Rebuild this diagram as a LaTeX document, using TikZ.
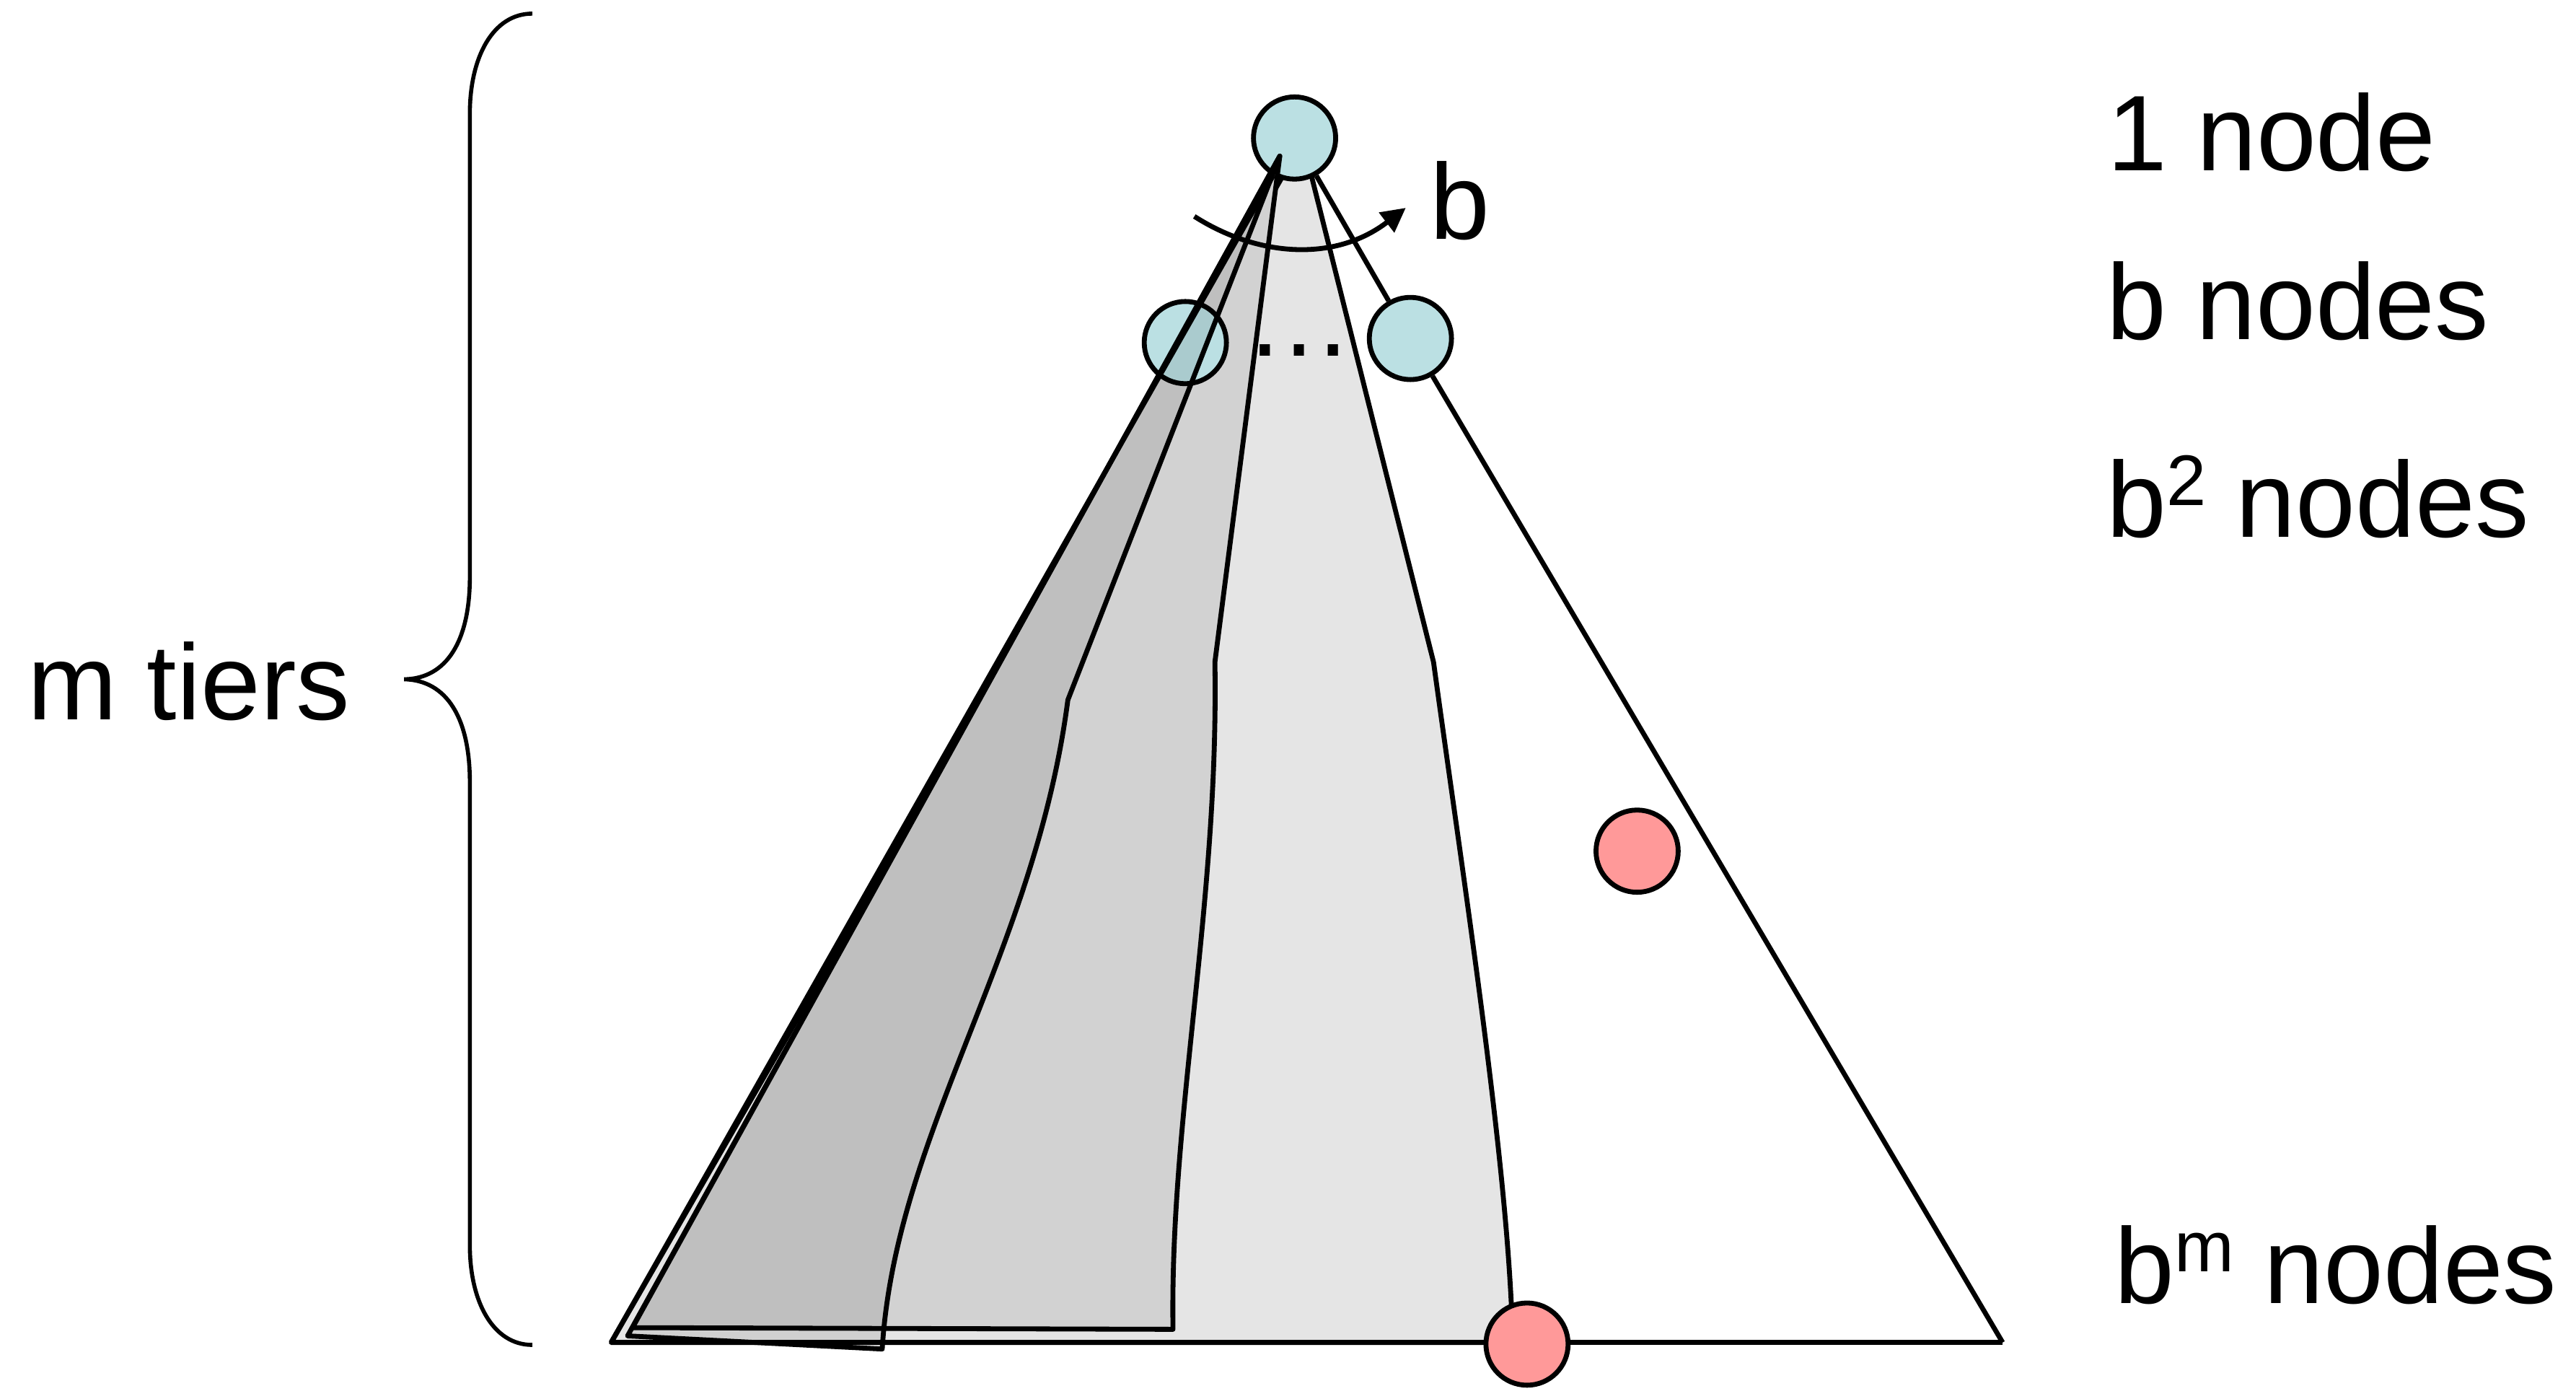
\documentclass[tikz,border=0pt]{standalone}
\usepackage{fontspec}
\setmainfont{Liberation Sans}
\usetikzlibrary{arrows.meta}
\definecolor{nodeblue}{RGB}{187,224,227}
\definecolor{nodered}{RGB}{255,153,153}
\definecolor{fanlight}{RGB}{229,229,229}
\definecolor{fanmid}{RGB}{210,210,210}
\tikzstyle{vertex}=[circle,draw=black,line width=0.85pt,minimum size=0.5cm,inner sep=0pt]
\tikzstyle{tree vertex}=[vertex,fill=nodeblue]
\tikzstyle{goal vertex}=[vertex,fill=nodered]
\tikzstyle{edge}=[draw,line width=0.85pt,-]
\tikzstyle{fan}=[draw,line width=0.85pt,line join=round]
\tikzstyle{tier label}=[inner sep=0pt,anchor=base west,font=\fontsize{18.6}{22}\selectfont]
\newcommand{\upidx}[1]{\raisebox{0.3em}{\fontsize{12.4}{14}\selectfont #1}}

\begin{document}
\begin{tikzpicture}[x=0.01cm,y=-0.01cm]
    \useasboundingbox (0,0) rectangle (1568,851.4);
    % corners and fan tips
    \coordinate (apex) at (779,95);
    \coordinate (lightapex) at (793,86);
    \coordinate (lcorner) at (372,817);
    \coordinate (rcorner) at (1219,817);

    % lightest fan, then the root on top of it
    \path[fan,fill=fanlight] (lightapex) -- (872.6,403) .. controls (890,530) and (915,690) .. (920,795) -- (920,817) -- (lcorner) -- cycle;
    \node[tree vertex] (root) at (788,84) {};

    % middle fan, then the left child
    \path[fan,fill=fanmid] (apex) -- (739.5,403) .. controls (742,550) and (712,680) .. (714,809) -- (385,808) -- cycle;
    \node[tree vertex] (lchild) at (721.5,208.5) {};

    % darkest fan over the left child
    \path[fan,fill=black,fill opacity=0.09] (apex) -- (650,426) .. controls (630,580) and (545,690) .. (537,821) -- (382,813) -- cycle;
    \node[tree vertex] (rchild) at (858.5,206) {};

    % Connect the outline of the tree
    \foreach \source/ \dest in {root/lcorner,root/rchild,rchild/rcorner,lcorner/rcorner}
        \path[edge] (\source) -- (\dest) ;

    % goal nodes
    \foreach \pos/\name in {{(996.5,518)/goalmid},{(929.5,818)/goalbot}}
        \node[goal vertex] (\name) at \pos {};

    \node[tier label,anchor=base] (dots) at (791,216.5) {…};

    % branching arrow
    \coordinate (arrowstart) at (727,131.7);
    \coordinate (arrowend) at (855.7,126.5);
    \draw[line width=0.85pt,-{Triangle[length=4.2pt,width=4.2pt]}] (arrowstart) .. controls (765,156) and (812,160) .. (arrowend);
    \node[tier label] (blabel) at (870,145.6) {b};

    % tier labels
    \node[tier label] (one) at (1282,103.7) {1 node};
    \node[tier label] (bn) at (1281.6,206.7) {b nodes};
    \node[tier label] (bsq) at (1281.6,327) {b\upidx{2} nodes};
    \node[tier label] (bm) at (1286.6,793.4) {b\upidx{m} nodes};
    \node[tier label] (mtiers) at (16.2,438) {m tiers};

    % brace
    \draw[line width=0.7pt] (324,8.3) .. controls (300,8.3) and (286,35) .. (286,69) -- (286,351)
        .. controls (286,390) and (272,413) .. (246,413.4)
        .. controls (272,414) and (286,437) .. (286,476) -- (286,758)
        .. controls (286,792) and (300,818.5) .. (324,818.5);
\end{tikzpicture}
\end{document}
